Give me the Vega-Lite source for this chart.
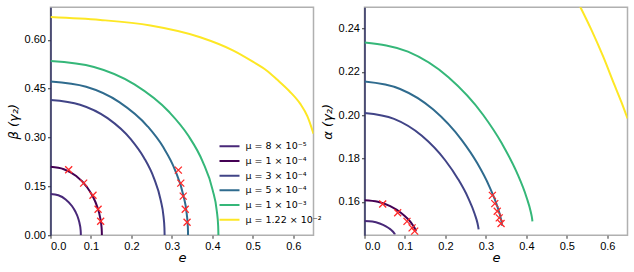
{
  "$schema": "https://vega.github.io/schema/vega-lite/v6.json",
  "padding": {"left": 6.5, "top": 6.25, "right": 0, "bottom": 0},
  "bounds": "flush",
  "spacing": 51,
  "config": {
    "font": "Liberation Sans",
    "view": {"stroke": "#b0b0b0", "strokeWidth": 1.5},
    "axis": {
      "grid": false, "domain": false, "tickColor": "#333333", "tickSize": 3, "tickWidth": 1,
      "labelFont": "Liberation Sans", "labelFontSize": 11, "labelColor": "#000000", "labelPadding": 2,
      "titleFont": "DejaVu Sans", "titleFontSize": 13, "titleFontWeight": "normal", "titleFontStyle": "italic", "titleColor": "#000000"
    },
    "legend": {
      "symbolType": "stroke", "symbolSize": 400, "symbolStrokeWidth": 2,
      "labelFont": "DejaVu Sans", "labelFontSize": 9.5, "labelColor": "#000000",
      "clipHeight": 13, "rowPadding": 1.7, "labelOffset": 5, "padding": 0
    }
  },
  "datasets": {
    "curves": [
      {"c": "μ = 8 × 10⁻⁵", "e": 0, "b": 0.127, "a": 0.1512},
      {"c": "μ = 8 × 10⁻⁵", "e": 0.0194, "b": 0.1227, "a": 0.1509},
      {"c": "μ = 8 × 10⁻⁵", "e": 0.0375, "b": 0.110, "a": 0.1500},
      {"c": "μ = 8 × 10⁻⁵", "e": 0.0530, "b": 0.0898, "a": 0.1487},
      {"c": "μ = 8 × 10⁻⁵", "e": 0.0614, "b": 0.0728, "a": 0.1477},
      {"c": "μ = 8 × 10⁻⁵", "e": 0.0680, "b": 0.0537, "a": 0.1467},
      {"c": "μ = 8 × 10⁻⁵", "e": 0.0724, "b": 0.0329, "a": 0.1458},
      {"c": "μ = 8 × 10⁻⁵", "e": 0.0743, "b": 0.0177, "a": 0.1453},
      {"c": "μ = 8 × 10⁻⁵", "e": 0.0749, "b": 0.0066, "a": 0.1451},
      {"c": "μ = 8 × 10⁻⁵", "e": 0.075, "b": 0, "a": 0.1450},
      {"c": "μ = 1 × 10⁻⁴", "e": 0, "b": 0.21, "a": 0.1608},
      {"c": "μ = 1 × 10⁻⁴", "e": 0.0329, "b": 0.2028, "a": 0.1601},
      {"c": "μ = 1 × 10⁻⁴", "e": 0.0635, "b": 0.1819, "a": 0.1580},
      {"c": "μ = 1 × 10⁻⁴", "e": 0.0898, "b": 0.1485, "a": 0.1550},
      {"c": "μ = 1 × 10⁻⁴", "e": 0.1040, "b": 0.1205, "a": 0.1527},
      {"c": "μ = 1 × 10⁻⁴", "e": 0.1151, "b": 0.0887, "a": 0.1504},
      {"c": "μ = 1 × 10⁻⁴", "e": 0.1227, "b": 0.0543, "a": 0.1483},
      {"c": "μ = 1 × 10⁻⁴", "e": 0.1258, "b": 0.0292, "a": 0.1471},
      {"c": "μ = 1 × 10⁻⁴", "e": 0.1268, "b": 0.0110, "a": 0.1466},
      {"c": "μ = 1 × 10⁻⁴", "e": 0.127, "b": 0, "a": 0.1464},
      {"c": "μ = 3 × 10⁻⁴", "e": 0, "b": 0.415, "a": 0.2010},
      {"c": "μ = 3 × 10⁻⁴", "e": 0.0730, "b": 0.4008, "a": 0.1983},
      {"c": "μ = 3 × 10⁻⁴", "e": 0.141, "b": 0.3594, "a": 0.1906},
      {"c": "μ = 3 × 10⁻⁴", "e": 0.1994, "b": 0.2934, "a": 0.1792},
      {"c": "μ = 3 × 10⁻⁴", "e": 0.2310, "b": 0.2380, "a": 0.1706},
      {"c": "μ = 3 × 10⁻⁴", "e": 0.2556, "b": 0.1754, "a": 0.1621},
      {"c": "μ = 3 × 10⁻⁴", "e": 0.2724, "b": 0.1074, "a": 0.1544},
      {"c": "μ = 3 × 10⁻⁴", "e": 0.2793, "b": 0.0578, "a": 0.1501},
      {"c": "μ = 3 × 10⁻⁴", "e": 0.2816, "b": 0.0217, "a": 0.1479},
      {"c": "μ = 3 × 10⁻⁴", "e": 0.282, "b": 0, "a": 0.1473},
      {"c": "μ = 5 × 10⁻⁴", "e": 0, "b": 0.472, "a": 0.2155},
      {"c": "μ = 5 × 10⁻⁴", "e": 0.0880, "b": 0.4559, "a": 0.2121},
      {"c": "μ = 5 × 10⁻⁴", "e": 0.170, "b": 0.4088, "a": 0.2026},
      {"c": "μ = 5 × 10⁻⁴", "e": 0.2404, "b": 0.3338, "a": 0.1885},
      {"c": "μ = 5 × 10⁻⁴", "e": 0.2785, "b": 0.2707, "a": 0.1779},
      {"c": "μ = 5 × 10⁻⁴", "e": 0.3081, "b": 0.1995, "a": 0.1673},
      {"c": "μ = 5 × 10⁻⁴", "e": 0.3284, "b": 0.1222, "a": 0.1578},
      {"c": "μ = 5 × 10⁻⁴", "e": 0.3367, "b": 0.0657, "a": 0.1525},
      {"c": "μ = 5 × 10⁻⁴", "e": 0.3395, "b": 0.0247, "a": 0.1498},
      {"c": "μ = 5 × 10⁻⁴", "e": 0.340, "b": 0, "a": 0.149},
      {"c": "μ = 1 × 10⁻³", "e": 0, "b": 0.535, "a": 0.2335},
      {"c": "μ = 1 × 10⁻³", "e": 0.1074, "b": 0.5168, "a": 0.2293},
      {"c": "μ = 1 × 10⁻³", "e": 0.2075, "b": 0.4633, "a": 0.2175},
      {"c": "μ = 1 × 10⁻³", "e": 0.2934, "b": 0.3783, "a": 0.2001},
      {"c": "μ = 1 × 10⁻³", "e": 0.3400, "b": 0.3069, "a": 0.1868},
      {"c": "μ = 1 × 10⁻³", "e": 0.3761, "b": 0.2261, "a": 0.1737},
      {"c": "μ = 1 × 10⁻³", "e": 0.4008, "b": 0.1385, "a": 0.1619},
      {"c": "μ = 1 × 10⁻³", "e": 0.4110, "b": 0.0745, "a": 0.1553},
      {"c": "μ = 1 × 10⁻³", "e": 0.4144, "b": 0.0280, "a": 0.1520},
      {"c": "μ = 1 × 10⁻³", "e": 0.415, "b": 0, "a": 0.151},
      {"c": "μ = 1.22 × 10⁻²", "e": 0, "b": 0.670, "a": null},
      {"c": "μ = 1.22 × 10⁻²", "e": 0.123, "b": 0.661, "a": null},
      {"c": "μ = 1.22 × 10⁻²", "e": 0.247, "b": 0.644, "a": null},
      {"c": "μ = 1.22 × 10⁻²", "e": 0.370, "b": 0.608, "a": null},
      {"c": "μ = 1.22 × 10⁻²", "e": 0.452, "b": 0.567, "a": null},
      {"c": "μ = 1.22 × 10⁻²", "e": 0.50, "b": 0.533, "a": 0.262},
      {"c": "μ = 1.22 × 10⁻²", "e": 0.534, "b": 0.506, "a": 0.2497},
      {"c": "μ = 1.22 × 10⁻²", "e": 0.56, "b": 0.478, "a": 0.2397},
      {"c": "μ = 1.22 × 10⁻²", "e": 0.59, "b": 0.443, "a": 0.2270},
      {"c": "μ = 1.22 × 10⁻²", "e": 0.617, "b": 0.404, "a": 0.2143},
      {"c": "μ = 1.22 × 10⁻²", "e": 0.635, "b": 0.365, "a": 0.2060},
      {"c": "μ = 1.22 × 10⁻²", "e": 0.65, "b": 0.312, "a": 0.1985}
    ],
    "crosses": [
      {"e": 0.045, "b": 0.201, "a": 0.1590},
      {"e": 0.082, "b": 0.160, "a": 0.1550},
      {"e": 0.105, "b": 0.1226, "a": 0.1510},
      {"e": 0.1176, "b": 0.080, "a": 0.1480},
      {"e": 0.124, "b": 0.043, "a": 0.1465},
      {"e": 0.316, "b": 0.2, "a": 0.1630},
      {"e": 0.322, "b": 0.16, "a": 0.1592},
      {"e": 0.328, "b": 0.12, "a": 0.1557},
      {"e": 0.333, "b": 0.08, "a": 0.1526},
      {"e": 0.3375, "b": 0.04, "a": 0.1500}
    ]
  },
  "resolve": {"scale": {"color": "independent"}, "legend": {"color": "independent"}},
  "hconcat": [
    {
      "width": 263, "height": 228,
      "layer": [
        {
          "data": {"name": "curves"},
          "mark": {"type": "line", "strokeWidth": 2, "clip": true, "interpolate": "monotone"},
          "encoding": {
            "x": {"field": "e", "type": "quantitative", "scale": {"domain": [0, 0.65], "nice": false, "zero": false},
                  "axis": {"values": [0, 0.1, 0.2, 0.3, 0.4, 0.5, 0.6], "format": ".1f", "title": "e", "titleX": 131.5, "titleY": 22, "titleBaseline": "middle"}},
            "y": {"field": "b", "type": "quantitative", "scale": {"domain": [0, 0.7], "nice": false},
                  "axis": {"values": [0, 0.15, 0.3, 0.45, 0.6], "format": ".2f", "title": "β (γ₂)", "titleX": -37, "titleY": 114, "titleAngle": -90, "titleAlign": "center", "titleBaseline": "middle",
                           "domain": true, "domainColor": "#2b2d5e", "domainWidth": 1.5}},
            "color": {"field": "c", "type": "nominal", "sort": null,
                      "scale": {"domain": ["μ = 8 × 10⁻⁵", "μ = 1 × 10⁻⁴", "μ = 3 × 10⁻⁴", "μ = 5 × 10⁻⁴", "μ = 1 × 10⁻³", "μ = 1.22 × 10⁻²"],
                                "range": ["#482878", "#440154", "#414487", "#2f6b8e", "#35b779", "#fde725"]},
                      "legend": {"title": null, "orient": "none", "legendX": 168, "legendY": 132.5}}
          }
        },
        {
          "data": {"name": "crosses"},
          "mark": {"type": "point", "shape": "M-1,-1L1,1M-1,1L1,-1", "filled": false, "stroke": "#ff2a2a", "strokeWidth": 1.3, "size": 49, "opacity": 1},
          "encoding": {
            "x": {"field": "e", "type": "quantitative"},
            "y": {"field": "b", "type": "quantitative"}
          }
        }
      ]
    },
    {
      "width": 263, "height": 228,
      "layer": [
        {
          "data": {"name": "curves"},
          "mark": {"type": "line", "strokeWidth": 2, "clip": true, "interpolate": "monotone"},
          "encoding": {
            "x": {"field": "e", "type": "quantitative", "scale": {"domain": [0, 0.65], "nice": false, "zero": false},
                  "axis": {"values": [0, 0.1, 0.2, 0.3, 0.4, 0.5, 0.6], "format": ".1f", "title": "e", "titleX": 131.5, "titleY": 22, "titleBaseline": "middle"}},
            "y": {"field": "a", "type": "quantitative", "scale": {"domain": [0.1446, 0.2498], "nice": false, "zero": false},
                  "axis": {"values": [0.16, 0.18, 0.2, 0.22, 0.24], "format": ".2f", "title": "α (γ₂)", "titleX": -37, "titleY": 114, "titleAngle": -90, "titleAlign": "center", "titleBaseline": "middle",
                           "domain": true, "domainColor": "#2b2d5e", "domainWidth": 1.5}},
            "color": {"field": "c", "type": "nominal", "sort": null,
                      "scale": {"domain": ["μ = 8 × 10⁻⁵", "μ = 1 × 10⁻⁴", "μ = 3 × 10⁻⁴", "μ = 5 × 10⁻⁴", "μ = 1 × 10⁻³", "μ = 1.22 × 10⁻²"],
                                "range": ["#482878", "#440154", "#414487", "#2f6b8e", "#35b779", "#fde725"]},
                      "legend": null}
          }
        },
        {
          "data": {"name": "crosses"},
          "mark": {"type": "point", "shape": "M-1,-1L1,1M-1,1L1,-1", "filled": false, "stroke": "#ff2a2a", "strokeWidth": 1.3, "size": 49, "opacity": 1},
          "encoding": {
            "x": {"field": "e", "type": "quantitative"},
            "y": {"field": "a", "type": "quantitative"}
          }
        }
      ]
    }
  ]
}
